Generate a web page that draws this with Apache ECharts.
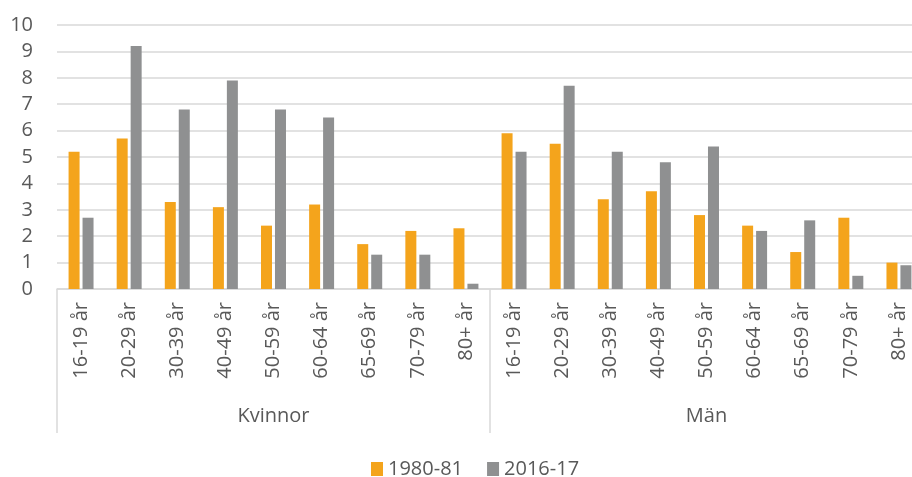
<!DOCTYPE html>
<html>
<head>
<meta charset="utf-8">
<script src="https://cdn.jsdelivr.net/npm/echarts@6/dist/echarts.min.js"></script>
<style>
  html, body { margin: 0; padding: 0; background: #fff; overflow: hidden; }
  #chart { width: 940px; height: 477px; }
</style>
</head>
<body>
<div id="chart"></div>
<script>
const ages = ['16-19 år', '20-29 år', '30-39 år', '40-49 år', '50-59 år', '60-64 år', '65-69 år', '70-79 år', '80+ år']
const groups = ['Kvinnor', 'Män']
const categories = ages.concat(ages)

// Kvinnor first, then Män
const s1980 = [5.2, 5.7, 3.3, 3.1, 2.4, 3.2, 1.7, 2.2, 2.3, 5.9, 5.5, 3.4, 3.7, 2.8, 2.4, 1.4, 2.7, 1.0]
const s2016 = [2.7, 9.2, 6.8, 7.9, 6.8, 6.5, 1.3, 1.3, 0.2, 5.2, 7.7, 5.2, 4.8, 5.4, 2.2, 2.6, 0.5, 0.9]

const txt = '#595959'
const font = 'Open Sans'

// chart div is a bit wider than the window: the last bars are cut off like in the original
const chart = echarts.init(document.getElementById('chart'))
chart.setOption({
  animation: false,
  textStyle: { fontFamily: font },
  grid: { left: 57, top: 25, width: 866, height: 264 },
  legend: {
    top: 454,
    left: 366,
    icon: 'rect',
    itemWidth: 12,
    itemHeight: 14,
    itemGap: 24,
    textStyle: { color: txt, fontSize: 20, fontFamily: font },
    data: ['1980-81', '2016-17'],
  },
  xAxis: [
    {
      type: 'category',
      data: categories,
      axisLine: { lineStyle: { color: '#d9d9d9', width: 1.5 } },
      axisTick: { show: false },
      axisLabel: {
        rotate: 90,
        interval: 0,
        margin: 13,
        color: txt,
        fontSize: 20,
        fontFamily: font,
      },
    },
    {
      type: 'category',
      data: groups,
      position: 'bottom',
      axisLine: { show: false },
      axisTick: { show: true, length: 144, lineStyle: { color: '#d9d9d9', width: 1.5 } },
      axisLabel: { margin: 117, color: txt, fontSize: 20, fontFamily: font },
    },
  ],
  yAxis: {
    type: 'value',
    min: 0,
    max: 10,
    interval: 1,
    axisLine: { show: false },
    axisTick: { show: false },
    axisLabel: { color: txt, fontSize: 20, margin: 24, fontFamily: font },
    splitLine: { lineStyle: { color: '#d9d9d9', width: 1.5 } },
  },
  series: [
    {
      name: '1980-81',
      type: 'bar',
      data: s1980,
      barWidth: 11,
      barGap: '27%',
      itemStyle: { color: '#f4a41c' },
    },
    {
      name: '2016-17',
      type: 'bar',
      data: s2016,
      barWidth: 11,
      itemStyle: { color: '#8f9091' },
    },
  ],
})
</script>
</body>
</html>
